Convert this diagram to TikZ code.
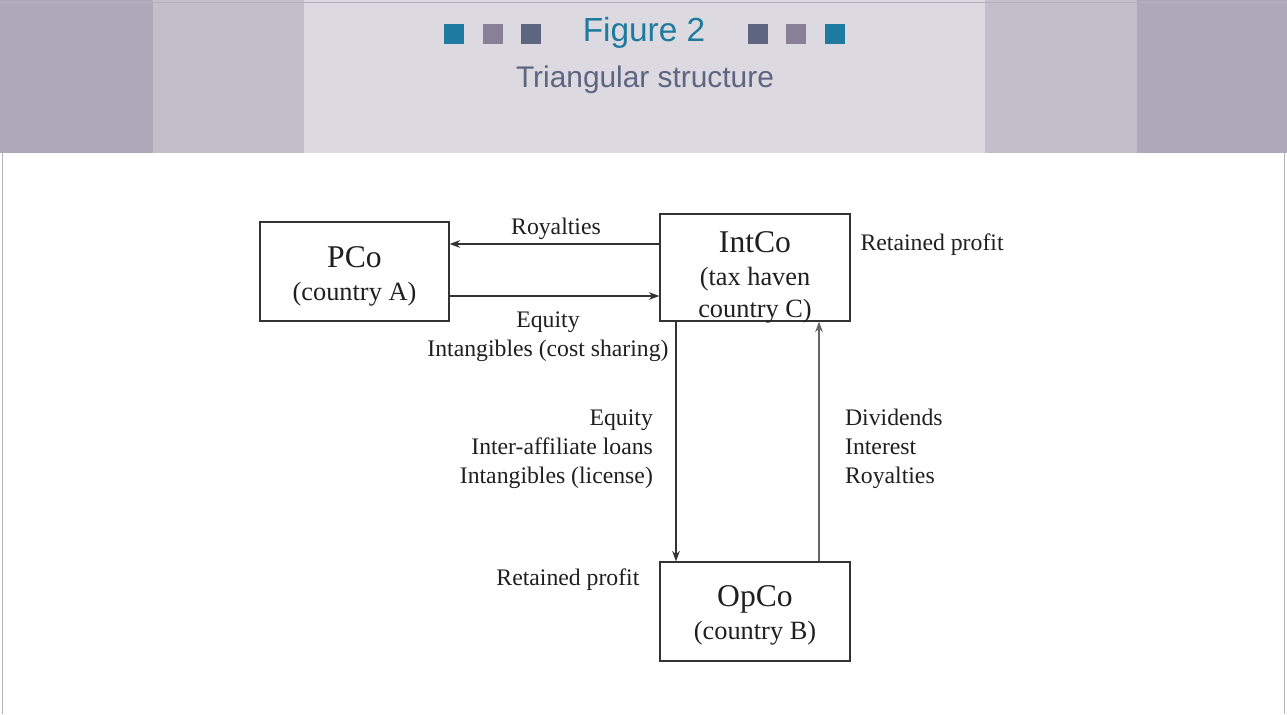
\documentclass[tikz,border=0pt]{standalone}
\usepackage{fontspec}
\setmainfont{Liberation Serif}
\newfontfamily\headfont{Liberation Sans}
\usetikzlibrary{arrows.meta}
\tikzset{>={Stealth[length=6pt,width=4.4pt]}}
\usetikzlibrary{positioning}
\definecolor{bandOuter}{RGB}{173,169,185}
\definecolor{bandMid}{RGB}{194,191,203}
\definecolor{bandCentre}{RGB}{220,218,224}
\definecolor{frameColor}{RGB}{180,176,192}
\definecolor{sqTeal}{RGB}{30,122,158}
\definecolor{sqMauve}{RGB}{135,128,150}
\definecolor{sqSlate}{RGB}{94,101,128}
\colorlet{penColor}{black!80}
\colorlet{penColor2}{black!60}
\colorlet{textColor}{black!88}

\begin{document}
\begin{tikzpicture}[
    box/.style={draw=penColor,line width=.7pt,inner sep=0pt},
    boxtext/.style={align=center,inner sep=0pt,text=textColor,
      font=\fontsize{15}{18.6}\selectfont},
    lbl/.style={inner sep=1pt,text=textColor,font=\fontsize{13.5}{16.4}\selectfont},
    flow/.style={->,draw=penColor,line width=.7pt}
  ]
  \useasboundingbox (0,0) rectangle (25.74,-14.28);

  % header band
  \fill[bandOuter] (0,0) rectangle (3.06,-3.06);
  \fill[bandMid] (3.06,0) rectangle (6.08,-3.06);
  \fill[bandCentre] (6.08,0) rectangle (19.7,-3.06);
  \fill[bandMid] (19.7,0) rectangle (22.74,-3.06);
  \fill[bandOuter] (22.74,0) rectangle (25.74,-3.06);
  \draw[frameColor,line width=.8pt] (0,-0.05) -- (25.74,-0.05);
  \draw[frameColor,line width=.8pt] (0.05,-3.06) -- (0.05,-14.28);
  \draw[frameColor,line width=.8pt] (25.69,-3.06) -- (25.69,-14.28);

  \foreach \x/\c in {8.88/sqTeal,9.66/sqMauve,10.42/sqSlate,14.96/sqSlate,15.72/sqMauve,16.5/sqTeal}
    \fill[\c] (\x,-0.48) rectangle ++(0.39,-0.39);
  \node[text=sqTeal,font=\headfont\fontsize{19}{22}\selectfont] (fig) at (12.88,-0.66) {Figure 2};
  \node[text=sqSlate,font=\headfont\fontsize{17}{20}\selectfont] (title) at (12.9,-1.6) {Triangular structure};

  % companies
  \node[box,minimum width=3.78cm,minimum height=1.98cm] (pco) at (7.09,-5.43) {};
  \node[box,minimum width=3.8cm,minimum height=2.14cm] (intco) at (15.1,-5.35) {};
  \node[box,minimum width=3.8cm,minimum height=1.98cm] (opco) at (15.1,-12.23) {};
  \node[boxtext] (pcoT) at ([yshift=-.1cm]pco.center)
    {{\fontsize{18}{20}\selectfont PCo}\\(country A)};
  \node[boxtext] (intcoT) at ([yshift=-.2cm]intco.center)
    {{\fontsize{18}{20}\selectfont IntCo}\\(tax haven\\country C)};
  \node[boxtext] (opcoT) at ([yshift=-.08cm]opco.center)
    {{\fontsize{18}{20}\selectfont OpCo}\\(country B)};

  % flows
  \draw[flow] ([yshift=.47cm]intco.west) coordinate (roy) -- (roy -| pco.east);
  \draw[flow] ([yshift=-.49cm]pco.east) coordinate (eq) -- (eq -| intco.west);
  \draw[flow] ([xshift=-1.58cm]intco.south) coordinate (down) -- (down |- opco.north);
  \draw[flow,draw=penColor2] ([xshift=1.28cm]opco.north) coordinate (up) -- (up |- intco.south);

  \node[lbl] (lroy) at (11.12,-4.58) {Royalties};
  \node[lbl,align=center] (leq) at (10.96,-6.74) {Equity\\Intangibles (cost sharing)};
  \node[lbl,align=right,anchor=east] (ldown) at (13.1,-8.98)
    {Equity\\Inter-affiliate loans\\Intangibles (license)};
  \node[lbl,align=left,anchor=west] (lup) at (16.86,-8.98) {Dividends\\Interest\\Royalties};
  \node[lbl,anchor=west] (lretc) at (17.17,-4.9) {Retained profit};
  \node[lbl,anchor=east] (lretb) at (12.83,-11.6) {Retained profit};
\end{tikzpicture}
\end{document}
